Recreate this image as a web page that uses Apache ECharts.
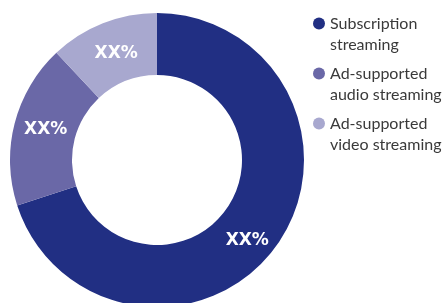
<!DOCTYPE html>
<html>
<head>
<meta charset="utf-8">
<script src="https://cdn.jsdelivr.net/npm/echarts@6/dist/echarts.min.js"></script>
<style>
  html, body { margin: 0; padding: 0; background: #fff; }
  #chart { width: 443px; height: 303px; }
</style>
</head>
<body>
<div id="chart"></div>
<script>
// data
let categories = ["Subscription\nstreaming", "Ad-supported\naudio streaming", "Ad-supported\nvideo streaming"];
let shares = [70, 18, 12];
let labelText = ["XX%", "XX%", "XX%"];
let colors = ["#212f83", "#6a68a7", "#a8a8cf"];

let chart = echarts.init(document.getElementById("chart"));

// small nudges so the labels sit where the original has them
let labelOffsets = [[-6, 11], [4, -1], [3, 4]];

let option = {
	animation: false,
	color: colors,
	legend: {
		orient: "vertical",
		left: 313,
		top: -8,
		padding: 0,
		icon: "circle",
		itemWidth: 12,
		itemHeight: 12,
		itemGap: -13,
		selectedMode: false,
		// empty first line so the dot sits next to the first text line
		formatter: function (name) {
			return "\n" + name;
		},
		textStyle: {
			fontFamily: "Lato",
			fontSize: 16,
			color: "#3a3a3a",
			lineHeight: 21
		},
		data: categories
	},
	series: [{
		type: "pie",
		center: [157, 160],
		radius: [85, 147],
		startAngle: 90,
		silent: true,
		label: {
			show: true,
			position: "inside",
			color: "#fff",
			fontFamily: "DejaVu Sans",
			fontWeight: "bold",
			fontSize: 17,
			formatter: function (p) {
				return labelText[p.dataIndex];
			}
		},
		labelLine: { show: false },
		data: categories.map(function (name, i) {
			return {
				name: name,
				value: shares[i],
				label: { offset: labelOffsets[i] }
			};
		})
	}]
};

chart.setOption(option);
</script>
</body>
</html>
